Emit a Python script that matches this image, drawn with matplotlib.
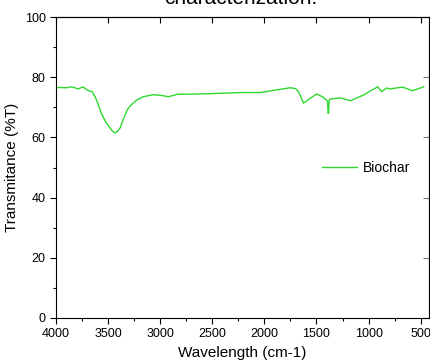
# FTIR spectrum of biochar

import numpy as np
import matplotlib.pyplot as plt
from matplotlib.ticker import MultipleLocator

plt.rcParams['font.family'] = ['Liberation Sans', 'DejaVu Sans']

# wavenumber (cm-1) and transmittance (%T)
wavenumber = [4000, 3900, 3846, 3788, 3740, 3702, 3654, 3625, 3600, 3570, 3548,
              3520, 3481, 3455, 3433, 3410, 3385, 3360, 3317, 3290, 3260, 3220,
              3163, 3067, 2980, 2923, 2837, 2548, 2231, 2038, 1900, 1750, 1700,
              1673, 1650, 1625, 1560, 1500, 1442, 1394, 1388, 1384, 1378, 1365,
              1269, 1173, 1048, 913, 875, 827, 788, 740, 673, 577, 471]
transmittance = [76.6, 76.5, 76.8, 76.1, 76.8, 75.7, 75.2, 73.5, 71.5, 68.5, 66.8,
                 65.0, 63.1, 62.0, 61.5, 62.0, 63.1, 65.5, 69.1, 70.4, 71.4, 72.5,
                 73.5, 74.2, 73.9, 73.5, 74.3, 74.5, 74.9, 74.9, 75.7, 76.5, 76.2,
                 75.2, 73.5, 71.4, 73.0, 74.4, 73.5, 72.1, 68.0, 68.2, 72.5, 72.8,
                 73.1, 72.2, 74.1, 76.8, 75.2, 76.4, 76.1, 76.4, 76.7, 75.5, 76.8]

fig = plt.figure(figsize=(4.3, 3.64), dpi=100)
ax = fig.add_axes([56 / 430, 46 / 364, 373 / 430, 301 / 364])

ax.plot(wavenumber, transmittance, color='#2fd82f', lw=1.0, label='Biochar')

ax.set_xlim(4000, 420)
ax.set_ylim(0, 100)
ax.xaxis.set_major_locator(MultipleLocator(500))
ax.xaxis.set_minor_locator(MultipleLocator(250))
ax.yaxis.set_major_locator(MultipleLocator(20))
ax.yaxis.set_minor_locator(MultipleLocator(10))

ax.tick_params(axis='both', which='major', labelsize=9, length=4, width=0.8, direction='out')
ax.tick_params(axis='both', which='minor', length=2.5, width=0.8, direction='out')

# inward ticks on the top and right axes, no labels
top = ax.secondary_xaxis('top')
top.set_xticks(np.arange(4000, 400, -500))
top.tick_params(direction='in', length=4, labeltop=False)
right = ax.secondary_yaxis('right')
right.set_yticks(np.arange(0, 101, 20))
right.tick_params(direction='in', length=4, labelright=False, colors='#777777')
right.spines['right'].set_color('#888888')

ax.set_xlabel('Wavelength (cm-1)', fontsize=11)
ax.set_ylabel('Transmitance (%T)', fontsize=11, labelpad=4)

ax.legend(loc='center left', bbox_to_anchor=(0.68, 0.5), frameon=False,
          fontsize=10, handlelength=2.5, handletextpad=0.4)

fig.text(0.56, 1.005, 'characterization.', ha='center', va='center', fontsize=15)

fig.savefig('out.png', dpi=100)
